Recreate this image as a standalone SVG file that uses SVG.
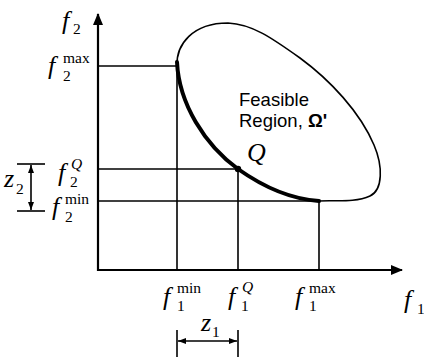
<svg xmlns="http://www.w3.org/2000/svg" width="424" height="357" viewBox="0 0 424 357">
<style>
.ax{stroke:#000;stroke-width:2.2;fill:none}
.gl{stroke:#000;stroke-width:1.6;fill:none}
.bd{stroke:#000;stroke-width:1.6;fill:none}
.fr{stroke:#000;stroke-width:4;fill:none;stroke-linecap:round}
.m{font-family:"Liberation Serif",serif;font-style:italic;font-size:26px;fill:#000}
.s{font-family:"Liberation Serif",serif;font-style:normal;font-size:15.5px}
.si{font-family:"Liberation Serif",serif;font-style:italic;font-size:15.5px}
.t{font-family:"Liberation Sans",Arial,sans-serif;font-size:18.5px;fill:#000}
</style>
<defs>
<marker id="ah" markerWidth="12" markerHeight="10" refX="11" refY="5" orient="auto" markerUnits="userSpaceOnUse">
<path d="M0,0 L12,5 L0,10 Z" fill="#000"/>
</marker>
<marker id="dh" markerWidth="8" markerHeight="6" refX="8" refY="3" orient="auto-start-reverse" markerUnits="userSpaceOnUse">
<path d="M0,0 L8,3 L0,6 Z" fill="#000"/>
</marker>
</defs>
<g id="connectors">
<line class="ax" x1="98" y1="271" x2="98" y2="14" marker-end="url(#ah)"/>
<line class="ax" x1="97" y1="270" x2="402" y2="270" marker-end="url(#ah)"/>
<line class="gl" x1="98" y1="66" x2="177" y2="66"/>
<line class="gl" x1="98" y1="169" x2="238" y2="169"/>
<line class="gl" x1="98" y1="201" x2="319" y2="201"/>
<line class="gl" x1="177" y1="66" x2="177" y2="270"/>
<line class="gl" x1="238" y1="169" x2="238" y2="270"/>
<line class="gl" x1="319" y1="201" x2="319" y2="270"/>
<line class="gl" x1="17" y1="164" x2="45" y2="164"/>
<line class="gl" x1="17" y1="211" x2="45" y2="211"/>
<line class="gl" x1="31" y1="165" x2="31" y2="210" marker-start="url(#dh)" marker-end="url(#dh)"/>
<line class="gl" x1="177" y1="330" x2="177" y2="357"/>
<line class="gl" x1="238" y1="330" x2="238" y2="357"/>
<line class="gl" x1="178" y1="341" x2="237" y2="341" marker-start="url(#dh)" marker-end="url(#dh)"/>
</g>
<g id="region">
<path class="bd" d="M177,66 C176,45 192,23 228,23 C252,24 272,38 300,58 C330,80 360,112 374,145 C383,166 383,190 370,196 C355,203 335,200 319,201"/>
<path class="fr" d="M177,62 C179,104 205,145 238,169 C262,186 290,199 319,201"/>
<circle cx="238" cy="169" r="3.2" fill="#000"/>
<text class="m" x="247" y="161" font-size="26">Q</text>
<text class="t" x="239" y="106">Feasible</text>
<text class="t" x="239" y="127">Region, <tspan font-weight="bold">Ω'</tspan></text>
</g>
<g id="labels">
<text class="m" x="62" y="29">f<tspan class="s" x="73" y="34">2</tspan></text>
<text class="m" x="48" y="74">f<tspan class="s" x="63" y="81">2</tspan><tspan class="s" x="63" y="63">max</tspan></text>
<text class="m" x="58" y="181">f<tspan class="s" x="70" y="186.5">2</tspan><tspan class="si" x="71" y="169">Q</tspan></text>
<text class="m" x="52" y="215">f<tspan class="s" x="65" y="221.5">2</tspan><tspan class="s" x="65" y="204">min</tspan></text>
<text class="m" x="4" y="187">z<tspan class="s" x="16" y="194">2</tspan></text>
<text class="m" x="163" y="305">f<tspan class="s" x="177" y="311">1</tspan><tspan class="s" x="177" y="293">min</tspan></text>
<text class="m" x="228" y="305">f<tspan class="s" x="241" y="311">1</tspan><tspan class="si" x="242" y="292">Q</tspan></text>
<text class="m" x="295" y="305">f<tspan class="s" x="309" y="311">1</tspan><tspan class="s" x="309" y="293">max</tspan></text>
<text class="m" x="404" y="308">f<tspan class="s" x="417" y="314">1</tspan></text>
<text class="m" x="201" y="331">z<tspan class="s" x="212" y="337">1</tspan></text>
</g>
</svg>
